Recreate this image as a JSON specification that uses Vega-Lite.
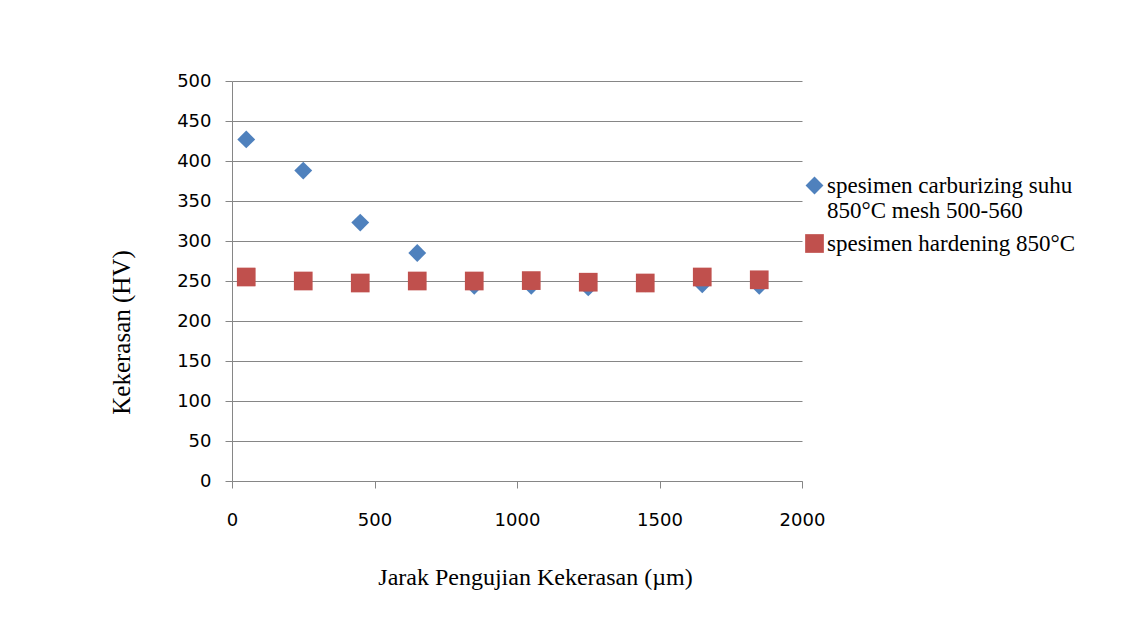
{
  "$schema": "https://vega.github.io/schema/vega-lite/v6.json",
  "autosize": {"type": "none"},
  "width": 570,
  "height": 400,
  "padding": {"left": 232, "top": 81, "right": 329, "bottom": 154},
  "background": "white",
  "config": {
    "view": {"stroke": null},
    "axis": {
      "domainColor": "#868686",
      "tickColor": "#868686",
      "gridColor": "#868686",
      "labelColor": "#000000",
      "labelFont": "DejaVu Sans",
      "labelFontSize": 18,
      "titleFont": "Liberation Serif",
      "titleFontSize": 22,
      "titleFontWeight": "normal",
      "titleColor": "#000000",
      "tickSize": 7,
      "labelFlush": false,
      "labelOverlap": false
    }
  },
  "data": {
    "values": [
      {"series": "spesimen carburizing suhu 850°C mesh 500-560", "jarak": 50, "hv": 427},
      {"series": "spesimen carburizing suhu 850°C mesh 500-560", "jarak": 250, "hv": 388},
      {"series": "spesimen carburizing suhu 850°C mesh 500-560", "jarak": 450, "hv": 323},
      {"series": "spesimen carburizing suhu 850°C mesh 500-560", "jarak": 650, "hv": 285},
      {"series": "spesimen carburizing suhu 850°C mesh 500-560", "jarak": 850, "hv": 244},
      {"series": "spesimen carburizing suhu 850°C mesh 500-560", "jarak": 1050, "hv": 244},
      {"series": "spesimen carburizing suhu 850°C mesh 500-560", "jarak": 1250, "hv": 242},
      {"series": "spesimen carburizing suhu 850°C mesh 500-560", "jarak": 1450, "hv": 247},
      {"series": "spesimen carburizing suhu 850°C mesh 500-560", "jarak": 1650, "hv": 246},
      {"series": "spesimen carburizing suhu 850°C mesh 500-560", "jarak": 1850, "hv": 244},
      {"series": "spesimen hardening 850°C", "jarak": 50, "hv": 255},
      {"series": "spesimen hardening 850°C", "jarak": 250, "hv": 250},
      {"series": "spesimen hardening 850°C", "jarak": 450, "hv": 247.5},
      {"series": "spesimen hardening 850°C", "jarak": 650, "hv": 250},
      {"series": "spesimen hardening 850°C", "jarak": 850, "hv": 250},
      {"series": "spesimen hardening 850°C", "jarak": 1050, "hv": 250.5},
      {"series": "spesimen hardening 850°C", "jarak": 1250, "hv": 248.5},
      {"series": "spesimen hardening 850°C", "jarak": 1450, "hv": 247.5},
      {"series": "spesimen hardening 850°C", "jarak": 1650, "hv": 255},
      {"series": "spesimen hardening 850°C", "jarak": 1850, "hv": 251.5}
    ]
  },
  "mark": {"type": "point", "filled": true, "opacity": 1, "clip": false},
  "encoding": {
    "x": {
      "field": "jarak",
      "type": "quantitative",
      "scale": {"domain": [0, 2000], "nice": false, "zero": false},
      "axis": {
        "values": [0, 500, 1000, 1500, 2000],
        "format": "d",
        "grid": false,
        "labelPadding": 23,
        "title": "Jarak Pengujian Kekerasan (µm)",
        "titleFontSize": 24,
        "titleX": 303,
        "titleY": 96,
        "titleBaseline": "middle"
      }
    },
    "y": {
      "field": "hv",
      "type": "quantitative",
      "scale": {"domain": [0, 500], "nice": false},
      "axis": {
        "values": [0, 50, 100, 150, 200, 250, 300, 350, 400, 450, 500],
        "format": "d",
        "grid": true,
        "labelPadding": 14,
        "title": "Kekerasan (HV)",
        "titleFontSize": 25,
        "titleX": -111,
        "titleY": 251,
        "titleBaseline": "middle"
      }
    },
    "color": {
      "field": "series",
      "type": "nominal",
      "scale": {
        "domain": ["spesimen carburizing suhu 850°C mesh 500-560", "spesimen hardening 850°C"],
        "range": ["#4F81BD", "#C0504D"]
      },
      "legend": {
        "title": null,
        "orient": "none",
        "legendX": 571,
        "legendY": 93,
        "labelFont": "Liberation Serif",
        "labelFontSize": 23,
        "labelColor": "#000000",
        "labelLimit": 400,
        "symbolSize": 150,
        "symbolStrokeWidth": 0,
        "rowPadding": 9,
        "labelOffset": 1,
        "labelExpr": "datum.label == 'spesimen carburizing suhu 850°C mesh 500-560' ? ['spesimen carburizing suhu', '850°C mesh 500-560'] : datum.label"
      }
    },
    "shape": {
      "field": "series",
      "type": "nominal",
      "scale": {
        "domain": ["spesimen carburizing suhu 850°C mesh 500-560", "spesimen hardening 850°C"],
        "range": ["diamond", "square"]
      },
      "legend": null
    },
    "size": {
      "field": "series",
      "type": "nominal",
      "scale": {
        "domain": ["spesimen carburizing suhu 850°C mesh 500-560", "spesimen hardening 850°C"],
        "range": [320, 350]
      },
      "legend": null
    }
  }
}
